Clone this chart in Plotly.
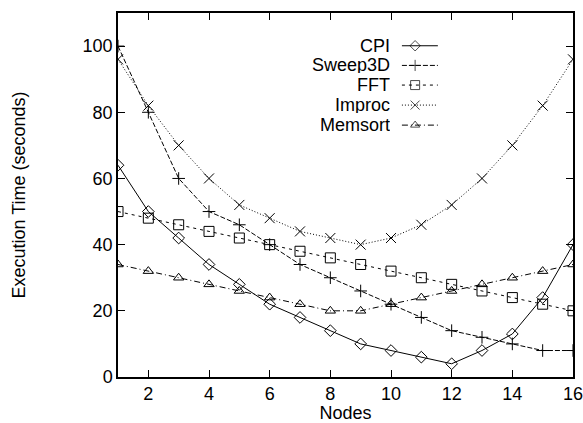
import plotly.graph_objects as go

nodes = list(range(1, 17))
cpi = [64, 50, 42, 34, 28, 22, 18, 14, 10, 8, 6, 4, 8, 13, 24, 40]
sweep3d = [100, 80, 60, 50, 46, 40, 34, 30, 26, 22, 18, 14, 12, 10, 8, 8]
fft = [50, 48, 46, 44, 42, 40, 38, 36, 34, 32, 30, 28, 26, 24, 22, 20]
improc = [96, 82, 70, 60, 52, 48, 44, 42, 40, 42, 46, 52, 60, 70, 82, 96]
memsort = [34, 32, 30, 28, 26, 24, 22, 20, 20, 22, 24, 26, 28, 30, 32, 34]

series_names = ["CPI", "Sweep3D", "FFT", "Improc", "Memsort"]
series_vals = [cpi, sweep3d, fft, improc, memsort]
symbols = ["diamond-open", "cross-thin-open", "square-open", "x-thin-open", "triangle-up-open"]
sizes = [9, 9, 10, 10, 9]
dashes = ["solid", "5px,2px", "3px,4px", "1px,2px", "6px,3px,1px,3px"]

FONT = "Liberation Sans, Arial, sans-serif"

fig = go.Figure()
for name, vals, sym, sz, dsh in zip(series_names, series_vals, symbols, sizes, dashes):
    fig.add_trace(go.Scatter(
        x=nodes, y=vals, mode="lines+markers", name=name, showlegend=False,
        line=dict(color="black", width=1, dash=dsh),
        marker=dict(symbol=sym, size=sz, color="black", line=dict(width=1, color="black")),
    ))

# gnuplot-style key (sample to the right of the text)
key_y = [0.910, 0.856, 0.802, 0.747, 0.692]
for name, sym, sz, dsh, ky in zip(series_names, symbols, sizes, dashes, key_y):
    fig.add_trace(go.Scatter(
        x=[0.624, 0.653, 0.703], y=[ky, ky, ky], mode="lines+markers", xaxis="x2", yaxis="y2",
        showlegend=False, hoverinfo="skip", cliponaxis=False,
        line=dict(color="black", width=1, dash=dsh),
        marker=dict(symbol=sym, size=[0, sz - 1, 0], color="black", line=dict(width=1, color="black")),
    ))
    fig.add_annotation(
        x=0.600, y=ky, xref="paper", yref="paper", text=name, showarrow=False,
        xanchor="right", yanchor="middle", height=16, borderpad=0,
        font=dict(family=FONT, size=18, color="black"),
    )

axis_common = dict(
    showline=True, linecolor="black", linewidth=1.5, mirror="allticks",
    ticks="inside", ticklen=7, tickwidth=1, tickcolor="black",
    showgrid=False, zeroline=False, automargin=False, ticklabeloverflow="allow",
    tickfont=dict(family=FONT, size=18, color="black"),
)

fig.update_layout(
    width=583, height=423,
    margin=dict(l=118, r=10, t=13, b=46),
    paper_bgcolor="white", plot_bgcolor="white",
    xaxis=dict(range=[1, 16], tickvals=[2, 4, 6, 8, 10, 12, 14, 16],
               title=dict(text="Nodes", font=dict(family=FONT, size=18, color="black"), standoff=2),
               **axis_common),
    yaxis=dict(range=[0, 110], tickvals=[0, 20, 40, 60, 80, 100],
               title=dict(text="Execution Time (seconds)", font=dict(family=FONT, size=18, color="black"), standoff=52),
               **axis_common),
    xaxis2=dict(overlaying="x", range=[0, 1], visible=False),
    yaxis2=dict(overlaying="y", range=[0, 1], visible=False),
    showlegend=False,
)

fig.write_html("out.html")
